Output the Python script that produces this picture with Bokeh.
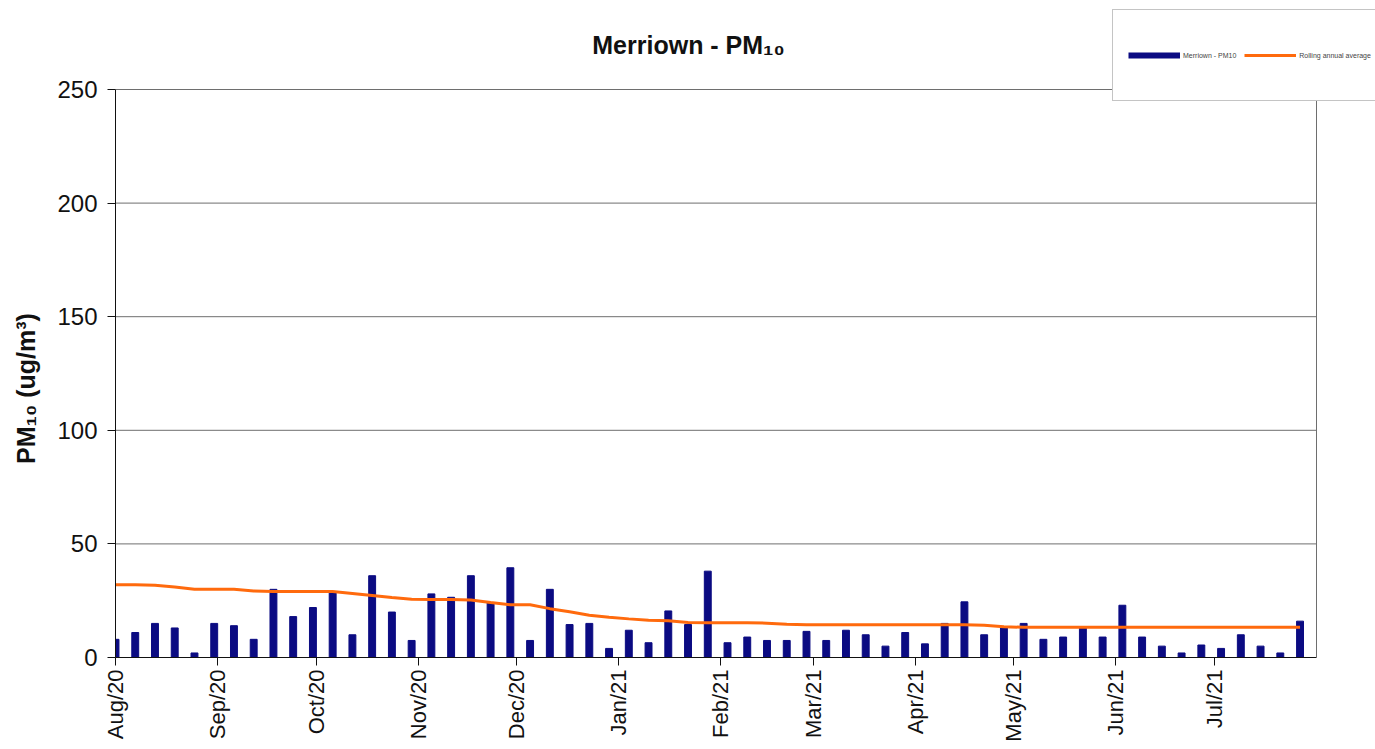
import pandas as pd
from math import pi
from bokeh.plotting import figure
from bokeh.models import Range1d, FixedTicker, DatetimeTickFormatter, Legend, LegendItem, Label
from bokeh.embed import file_html
from bokeh.resources import INLINE

# ---- data ----
sample_dates = pd.date_range("2020-08-01", periods=61, freq="6D")
pm10 = [8, 11, 15, 13, 2, 15, 14, 8, 30, 18, 22, 29, 10, 36, 20, 7.5, 28, 26.5, 36, 24,
        39.5, 7.5, 30, 14.5, 15, 4, 12, 6.5, 20.5, 14.5, 38, 6.5, 9, 7.5, 7.5, 11.5, 7.5, 12, 10, 5,
        11, 6, 15, 24.5, 10, 13, 15, 8, 9, 13, 9, 23, 9, 5, 2, 5.5, 4, 10, 5, 2, 16]
rolling_avg = [32, 32, 31.8, 31, 30, 30, 30, 29.3, 29, 29, 29, 29, 28.2, 27.3, 26.4, 25.6, 25.5, 25.5, 25.3, 24.2,
               23.2, 23.2, 21.5, 20.1, 18.6, 17.7, 17.0, 16.4, 16.2, 15.4, 15.3, 15.3, 15.3, 15.1, 14.6, 14.4, 14.4, 14.4, 14.4, 14.4,
               14.4, 14.4, 14.4, 14.4, 14.2, 13.5, 13.3, 13.3, 13.3, 13.3, 13.3, 13.3, 13.3, 13.3, 13.3, 13.3, 13.3, 13.3, 13.3, 13.3, 13.3]
month_ticks = pd.date_range("2020-08-01", "2021-07-01", freq="MS")
y_ticks = [0, 50, 100, 150, 200, 250]
grid_levels = [50, 100, 150, 200, 250]

NAVY = "#0b0b82"
ORANGE = "#ff6a0d"
FONT = "Liberation Sans"
GRID = "#6e6e6e"

def ms(ts):
    return ts.value // 10**6

x_start = ms(pd.Timestamp("2020-08-01"))
x_stop = ms(pd.Timestamp("2021-08-01"))          # right edge of the plotting box
# the frame is extended to the canvas edge so the legend box can overlap as in the original
frame_left, box_right, canvas_w = 115, 1316, 1375
box_top, frame_top, box_bottom = 89, 8, 657
x_end = x_stop + (x_stop - x_start) * (canvas_w - box_right) / (box_right - frame_left)
y_top = 250 * (box_bottom - frame_top) / (box_bottom - box_top)

p = figure(width=1375, height=749, x_axis_type="datetime",
           x_range=Range1d(x_start, x_end), y_range=Range1d(0, y_top),
           output_backend="svg", toolbar_location=None,
           min_border_left=frame_left, min_border_right=0, min_border_top=frame_top,
           min_border_bottom=749 - box_bottom)

# grid lines and right border of the plotting box
p.segment(x0=[x_start] * len(grid_levels), x1=[x_stop] * len(grid_levels),
          y0=grid_levels, y1=grid_levels, line_color=GRID, line_width=1)
p.segment(x0=[x_stop], x1=[x_stop], y0=[0], y1=[250], line_color=GRID, line_width=1)

p.vbar(x=list(sample_dates), top=pm10, width=2.1 * 86400000, color=NAVY)
avg_r = p.line(x=list(sample_dates), y=rolling_avg, line_color=ORANGE, line_width=3)
# legend-only swatch for the bar series (zero-length, so nothing shows in the plot)
swatch = p.line(x=[sample_dates[0], sample_dates[0]], y=[0, 0], line_color=NAVY, line_width=6)

# title
p.add_layout(Label(x=688 - frame_left, y=box_bottom - 44, x_units="screen", y_units="screen",
                   text="Merriown - PM\u2081\u2080", text_font=FONT, text_font_size="25px",
                   text_font_style="bold", text_color="#111111",
                   text_align="center", text_baseline="middle"))

# axes
p.xaxis.bounds = (x_start, x_stop)
p.xaxis.ticker = FixedTicker(ticks=[ms(t) for t in month_ticks])
p.xaxis.formatter = DatetimeTickFormatter(days="%b/%y", months="%b/%y", years="%b/%y")
p.xaxis.major_label_orientation = pi / 2
p.xaxis.major_label_text_font = FONT
p.xaxis.major_label_text_font_size = "22px"
p.xaxis.major_label_text_color = "#111111"
p.xaxis.major_label_standoff = 4
p.xaxis.major_tick_out = 8
p.xaxis.major_tick_in = 0
p.xaxis.minor_tick_out = 0
p.xaxis.minor_tick_in = 0

p.yaxis.bounds = (0, 250)
p.yaxis.ticker = FixedTicker(ticks=y_ticks)
p.yaxis.major_label_text_font = FONT
p.yaxis.major_label_text_font_size = "24px"
p.yaxis.major_label_text_color = "#111111"
p.yaxis.major_label_standoff = 10
p.yaxis.major_tick_out = 8
p.yaxis.major_tick_in = 0
p.yaxis.minor_tick_out = 0
p.yaxis.minor_tick_in = 0
# trailing no-break spaces move the label down to sit beside the plotting box centre
p.yaxis.axis_label = "PM\u2081\u2080 (ug/m\u00b3)" + "\u00a0" * 16
p.yaxis.axis_label_text_font = FONT
p.yaxis.axis_label_text_font_size = "25px"
p.yaxis.axis_label_text_font_style = "bold"
p.yaxis.axis_label_text_color = "#111111"
p.yaxis.axis_label_standoff = 14

for ax in (p.xaxis, p.yaxis):
    ax.axis_line_color = "#111111"
    ax.major_tick_line_color = "#111111"

p.xgrid.grid_line_color = None
p.ygrid.grid_line_color = None
p.outline_line_color = None
p.background_fill_color = "white"
p.border_fill_color = "white"

legend = Legend(items=[LegendItem(label="Merriown - PM10", renderers=[swatch]),
                       LegendItem(label="Rolling annual average", renderers=[avg_r])],
                location=(1112 - frame_left, box_bottom - 101), orientation="horizontal",
                glyph_width=52, glyph_height=60, label_height=60,
                padding=15, spacing=8, label_standoff=3, margin=0,
                label_text_font=FONT, label_text_font_size="7px", label_text_color="#444444",
                border_line_color="#8a8a8a", border_line_width=1,
                background_fill_color="white", background_fill_alpha=1)
p.add_layout(legend)

open("out.html", "w").write(file_html(p, INLINE))
